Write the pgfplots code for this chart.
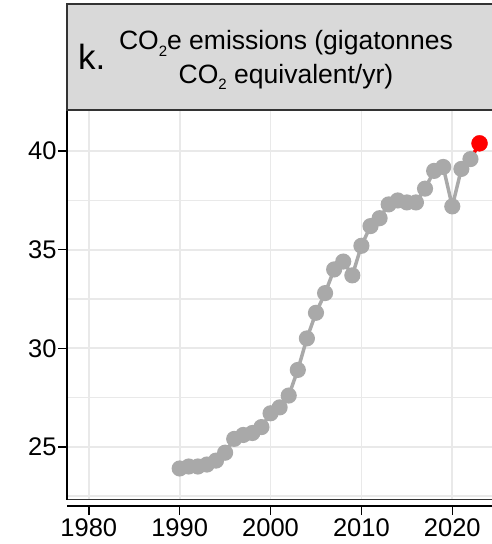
\documentclass[border=0pt]{standalone}
\usepackage{pgfplots}
\pgfplotsset{compat=1.18}
\usepackage{pgfplotstable}
\usepackage{fontspec}
\setmainfont{Liberation Sans}
\definecolor{ptgray}{RGB}{169,169,169}
\definecolor{gridgray}{RGB}{233,233,233}
\definecolor{stripgray}{RGB}{217,217,217}
\newcommand{\sub}[1]{\raisebox{-6.5pt}{\fontsize{15}{15}\selectfont #1}}
\pgfplotstableread{
year value
1990 23.9
1991 24.0
1992 24.0
1993 24.1
1994 24.3
1995 24.7
1996 25.4
1997 25.6
1998 25.7
1999 26.0
2000 26.7
2001 27.0
2002 27.6
2003 28.9
2004 30.5
2005 31.8
2006 32.8
2007 34.0
2008 34.4
2009 33.7
2010 35.2
2011 36.2
2012 36.6
2013 37.3
2014 37.5
2015 37.4
2016 37.4
2017 38.1
2018 39.0
2019 39.2
2020 37.2
2021 39.1
2022 39.6
}\emissions
\pgfplotstableread{
year value
2023 40.4
}\latest
\begin{document}
\begin{tikzpicture}[x=1pt,y=1pt]
\path[use as bounding box, clip] (0,0) rectangle (492,544);
\begin{axis}[
  at={(67pt,44pt)}, anchor=south west,
  scale only axis, width=438pt, height=389pt,
  xmin=1977.6, xmax=2025.8, ymin=22.3, ymax=42.04,
  axis x line*=bottom, axis y line*=left,
  x axis line style={draw=black!80, line width=1pt, -},
  y axis line style={black, line width=1.8pt, -},
  xtick={1980,1990,2000,2010,2020}, xticklabels={},
  major x tick style={draw=none},
  ytick={25,30,35,40},
  minor ytick={22.5,27.5,32.5,37.5},
  xmajorgrids, ymajorgrids, yminorgrids,
  major grid style={gridgray, line width=1.7pt},
  minor grid style={gridgray, line width=1.2pt},
  tick align=outside, major tick length=9pt, minor tick length=0pt,
  major y tick style={black, line width=1.5pt},
  yticklabel style={font=\fontsize{25.5}{25.5}\selectfont, xshift=2pt},
  /pgf/number format/assume math mode=true,
]
\addplot[red, line width=3.5pt, forget plot] coordinates {(2022,39.6) (2023,40.4)};
\addplot[ptgray, line width=3.5pt, mark=*, mark size=6.3pt, mark options={fill=ptgray, draw=none}] table[x=year, y=value] {\emissions};
\addplot[only marks, mark=*, mark size=8pt, red, mark options={draw=none, fill=red}] table[x=year, y=value] {\latest};
\end{axis}
\begin{axis}[
  at={(67pt,38pt)}, anchor=south west,
  scale only axis, width=438pt, height=5pt,
  xmin=1977.6, xmax=2025.8, ymin=0, ymax=1,
  axis x line=bottom, axis y line=none,
  x axis line style={black, line width=1.8pt, -},
  xtick={1980,1990,2000,2010,2020},
  xticklabels={1980,1990,2000,2010,2020},
  tick align=outside, major tick length=9pt,
  major x tick style={black, line width=1.5pt},
  xticklabel style={font=\fontsize{25.5}{25.5}\selectfont},
]
\addplot[draw=none] coordinates {(2000,0.5)};
\end{axis}
\draw[fill=stripgray, draw=black!80, line width=1.8pt] (67,434) rectangle (530,540);
\node[anchor=base west, inner sep=0, font=\fontsize{35}{35}\selectfont] at (78,474) {k.};
\node[anchor=base, inner sep=0, font=\fontsize{26.5}{30}\selectfont] at (286,494) {CO\sub{2}e emissions (gigatonnes};
\node[anchor=base, inner sep=0, font=\fontsize{26.5}{30}\selectfont] at (286,460.7) {CO\sub{2} equivalent/yr)};
\end{tikzpicture}
\end{document}
